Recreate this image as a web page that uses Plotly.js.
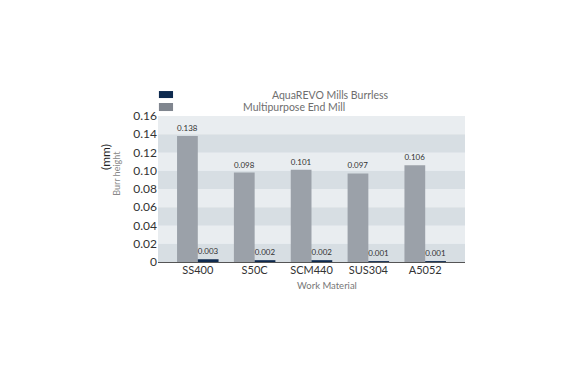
<!DOCTYPE html>
<html><head><meta charset="utf-8">
<script src="https://cdn.plot.ly/plotly-3.0.1.min.js"></script>
<style>html,body{margin:0;padding:0;background:#fff}#c{width:575px;height:380px}</style>
</head><body><div id="c"></div>
<script>
const categories = ["SS400", "S50C", "SCM440", "SUS304", "A5052"];
const multipurpose = [0.138, 0.098, 0.101, 0.097, 0.106];
const aquarevo = [0.003, 0.002, 0.002, 0.001, 0.001];
const seriesNames = ["AquaREVO Mills Burrless", "Multipurpose End Mill"];
const tickVals = [0, 0.02, 0.04, 0.06, 0.08, 0.10, 0.12, 0.14, 0.16];
const tickText = ["0", "0.02", "0.04", "0.06", "0.08", "0.10", "0.12", "0.14", "0.16"];

const grayC = "#9ba1a9", navyC = "#0e2a4f";
const traces = [
  {type:"bar", x:categories, y:multipurpose, name:seriesNames[1], marker:{color:grayC},
   text:multipurpose.map(v=>v.toFixed(3)), textposition:"outside", cliponaxis:false,
   textfont:{size:8, color:"#333", family:"Lato, sans-serif"}, showlegend:false},
  {type:"bar", x:categories, y:aquarevo, name:seriesNames[0], marker:{color:navyC},
   text:aquarevo.map(v=>v.toFixed(3)), textposition:"outside", cliponaxis:false,
   textfont:{size:8, color:"#333", family:"Lato, sans-serif"}, showlegend:false}
];

const shapes = [];
for (let i = 0; i < tickVals.length - 1; i++) {
  shapes.push({type:"rect", xref:"paper", yref:"y", x0:0, x1:1, y0:tickVals[i], y1:tickVals[i+1],
    fillcolor: (i % 2 === 0) ? "#d7dee3" : "#e9edf0", line:{width:0}, layer:"below"});
}
// legend swatches
shapes.push({type:"rect", xref:"paper", yref:"paper", x0:0.003, x1:0.049, y0:1.123, y1:1.171, fillcolor:navyC, line:{width:0}});
shapes.push({type:"rect", xref:"paper", yref:"paper", x0:0.003, x1:0.049, y0:1.034, y1:1.089, fillcolor:"#80868f", line:{width:0}});

const annotations = [
  {xref:"paper", yref:"paper", x:0.759, y:1.144, xanchor:"right", yanchor:"middle", showarrow:false,
   text:seriesNames[0], font:{size:10.5, color:"#6e6e6e", family:"Lato, sans-serif"}},
  {xref:"paper", yref:"paper", x:0.616, y:1.062, xanchor:"right", yanchor:"middle", showarrow:false,
   text:seriesNames[1], font:{size:10.5, color:"#6e6e6e", family:"Lato, sans-serif"}},
  {xref:"paper", yref:"paper", x:-0.173, y:0.719, xanchor:"center", yanchor:"middle", showarrow:false, textangle:-90,
   text:"(mm)", font:{size:12, color:"#222", family:"Lato, sans-serif"}},
  {xref:"paper", yref:"paper", x:-0.134, y:0.61, xanchor:"center", yanchor:"middle", showarrow:false, textangle:-90,
   text:"Burr height", font:{size:9, color:"#888", family:"Lato, sans-serif"}},
  {xref:"paper", yref:"paper", x:0.55, y:-0.158, xanchor:"center", yanchor:"middle", showarrow:false,
   text:"Work Material", font:{size:9.5, color:"#777", family:"Lato, sans-serif"}}
];

const layout = {
  width:575, height:380,
  margin:{l:158, r:110, t:116, b:118},
  paper_bgcolor:"#fff", plot_bgcolor:"#e9edf0",
  barmode:"group", bargap:0.27, bargroupgap:0,
  showlegend:false,
  font:{family:"Lato, sans-serif"},
  xaxis:{range:[-0.7, 4.7], showgrid:false, zeroline:false, showline:false, ticks:"",
    tickfont:{size:11, color:"#333"}},
  yaxis:{range:[0, 0.16], tickvals:tickVals, ticktext:tickText, showgrid:false,
    zeroline:true, zerolinecolor:"#555", zerolinewidth:1, showline:false, ticks:"",
    tickfont:{size:12, color:"#333"}},
  shapes:shapes, annotations:annotations
};
Plotly.newPlot("c", traces, layout, {displayModeBar:false, staticPlot:true});
</script></body></html>
